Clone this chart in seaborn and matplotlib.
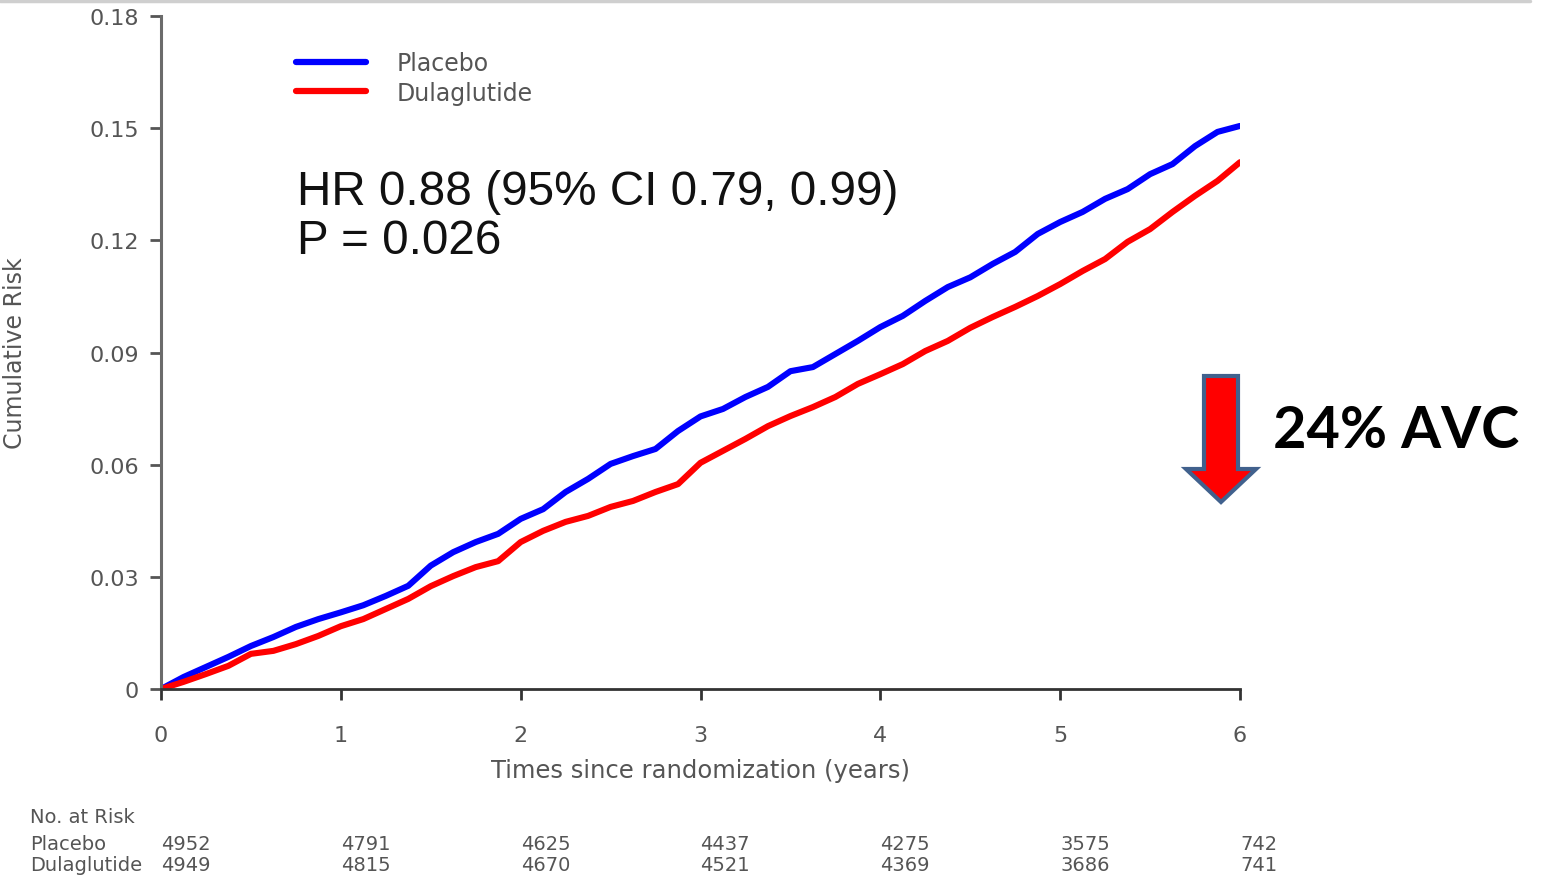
import numpy as np
import pandas as pd
import matplotlib
matplotlib.use("Agg")
import matplotlib.pyplot as plt
import seaborn as sns
from matplotlib.patches import Polygon
from matplotlib.lines import Line2D
import matplotlib.transforms as mtransforms

# ---- data (every 1/8 year) ----
time_years = [0, 0.125, 0.25, 0.375, 0.5, 0.625, 0.75, 0.875, 1.0, 1.125, 1.25, 1.375,
              1.5, 1.625, 1.75, 1.875, 2.0, 2.125, 2.25, 2.375, 2.5, 2.625, 2.75, 2.875,
              3.0, 3.125, 3.25, 3.375, 3.5, 3.625, 3.75, 3.875, 4.0, 4.125, 4.25, 4.375,
              4.5, 4.625, 4.75, 4.875, 5.0, 5.125, 5.25, 5.375, 5.5, 5.625, 5.75, 5.875, 6.0]
placebo_risk = [0.0, 0.0032, 0.0059, 0.0086, 0.0115, 0.0139, 0.0166, 0.0187, 0.0205,
                0.0224, 0.0249, 0.0276, 0.0330, 0.0366, 0.0393, 0.0415, 0.0455, 0.0481,
                0.0527, 0.0562, 0.0602, 0.0623, 0.0642, 0.0690, 0.0729, 0.0749, 0.0781,
                0.0808, 0.0850, 0.0861, 0.0896, 0.0931, 0.0968, 0.0998, 0.1038, 0.1075,
                0.1101, 0.1137, 0.1169, 0.1217, 0.1249, 0.1276, 0.1311, 0.1337, 0.1377,
                0.1404, 0.1452, 0.1490, 0.1506]
dulaglutide_risk = [0.0, 0.0019, 0.0040, 0.0062, 0.0094, 0.0102, 0.0120, 0.0142, 0.0168,
                    0.0187, 0.0214, 0.0241, 0.0275, 0.0302, 0.0326, 0.0342, 0.0393, 0.0423,
                    0.0447, 0.0463, 0.0487, 0.0503, 0.0527, 0.0548, 0.0605, 0.0637, 0.0669,
                    0.0703, 0.0730, 0.0754, 0.0781, 0.0816, 0.0842, 0.0869, 0.0904, 0.0931,
                    0.0966, 0.0995, 0.1022, 0.1051, 0.1083, 0.1118, 0.1150, 0.1196, 0.1230,
                    0.1276, 0.1319, 0.1359, 0.1409]
series_names = ["Placebo", "Dulaglutide"]
x_ticks = [0, 1, 2, 3, 4, 5, 6]
y_ticks = [0, 0.03, 0.06, 0.09, 0.12, 0.15, 0.18]
y_tick_labels = ["0", "0.03", "0.06", "0.09", "0.12", "0.15", "0.18"]
at_risk_placebo = [4952, 4791, 4625, 4437, 4275, 3575, 742]
at_risk_dulaglutide = [4949, 4815, 4670, 4521, 4369, 3686, 741]
hr_text = "HR 0.88 (95% CI 0.79, 0.99)\nP = 0.026"
callout_text = "24% AVC"

df = pd.DataFrame({
    "time": time_years * 2,
    "risk": placebo_risk + dulaglutide_risk,
    "group": [series_names[0]] * len(time_years) + [series_names[1]] * len(time_years),
})

sns.set_theme(style="white")
plt.rcParams["font.family"] = ["DejaVu Sans"]

W, H = 1541, 878
fig = plt.figure(figsize=(W / 100, H / 100), dpi=100)
ax = fig.add_axes([161 / W, 1 - 690 / H, (1240 - 161) / W, (690 - 17) / H])

palette = {"Placebo": "#0000ff", "Dulaglutide": "#ff0000"}
sns.lineplot(data=df, x="time", y="risk", hue="group", palette=palette,
             linewidth=4.4, ax=ax, legend=False)

ax.set_xlim(0, 6)
ax.set_ylim(0, 0.18)
ax.set_xticks(x_ticks)
ax.set_xticklabels([str(v) for v in x_ticks])
ax.set_yticks(y_ticks)
ax.set_yticklabels(y_tick_labels)
ax.margins(0)

grey = "#555555"
for side in ["top", "right"]:
    ax.spines[side].set_visible(False)
ax.spines["left"].set_color("#6b6b6b")
ax.spines["left"].set_linewidth(2.2)
ax.spines["bottom"].set_color("#333333")
ax.spines["bottom"].set_linewidth(2.0)
ax.tick_params(axis="both", bottom=True, left=True, direction="out", length=8, width=2,
               colors="#555555", labelsize=16, labelcolor=grey)
ax.tick_params(axis="x", pad=18, color="#333333")
ax.tick_params(axis="y", pad=8)
ax.set_xlabel("Times since randomization (years)", fontsize=17.5, color=grey, labelpad=9)
ax.set_ylabel("Cumulative Risk", fontsize=17, color=grey)
ax.yaxis.set_label_coords(-0.124, 0.5)

# legend
leg_handles = [Line2D([0], [0], color=palette[n], lw=4.5) for n in series_names]
ax.legend(leg_handles, series_names, loc="upper left", bbox_to_anchor=(0.105, 0.979),
          frameon=False, fontsize=17, labelcolor=grey, handlelength=3.0,
          handletextpad=1.3, labelspacing=0.22)

# HR text
fig.text(297 / W, 1 - 170 / H, hr_text, fontsize=34.3, color="#111111",
         family=["Liberation Sans", "DejaVu Sans"],
         va="top", ha="left", linespacing=1.12)

# number at risk table
trans = mtransforms.blended_transform_factory(ax.transData, fig.transFigure)
fig.text(30 / W, 1 - 818 / H, "No. at Risk", fontsize=14, color=grey, va="center")
fig.text(30 / W, 1 - 845 / H, series_names[0], fontsize=14, color=grey, va="center")
fig.text(30 / W, 1 - 866 / H, series_names[1], fontsize=14, color=grey, va="center")
for xv, p, d in zip(x_ticks, at_risk_placebo, at_risk_dulaglutide):
    ax.text(xv, 1 - 845 / H, str(p), transform=trans, fontsize=14, color=grey,
            va="center", ha="left", clip_on=False)
    ax.text(xv, 1 - 866 / H, str(d), transform=trans, fontsize=14, color=grey,
            va="center", ha="left", clip_on=False)

# arrow callout (figure pixel coords)
def fp(x, y):
    return (x / W, 1 - y / H)

arrow_pts = [fp(1204, 377), fp(1238, 377), fp(1238, 470), fp(1256, 470),
             fp(1221, 503), fp(1186, 470), fp(1204, 470)]
fig.patches.append(Polygon(arrow_pts, closed=True, facecolor="#ff0000",
                           edgecolor="#41618d", linewidth=3,
                           transform=fig.transFigure, figure=fig))
fig.text(1273 / W, 1 - 432 / H, callout_text, fontsize=41.5, fontweight="bold",
         family=["Lato", "DejaVu Sans"], color="black", va="center", ha="left")

# faint slide border at top
fig.add_artist(Line2D([0, 1530 / W], [1 - 1.5 / H, 1 - 1.5 / H], color="#cfcfcf",
                      lw=2.5, transform=fig.transFigure))

fig.savefig("out.png", dpi=100)
